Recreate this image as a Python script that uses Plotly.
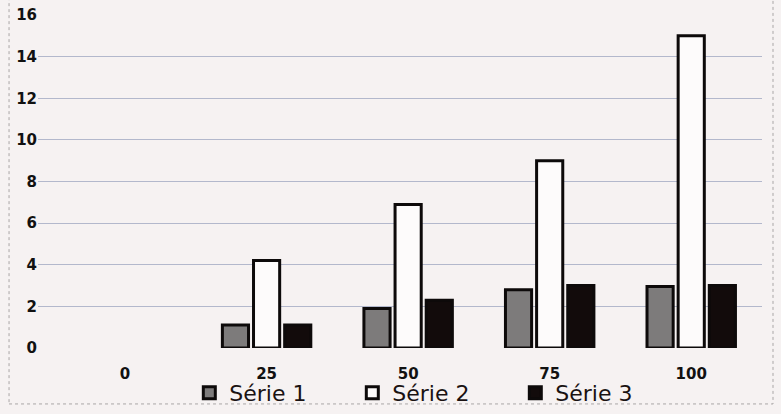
import plotly.graph_objects as go

# Data
categories = ["0", "25", "50", "75", "100"]
serie1 = [0, 1.1, 1.9, 2.8, 2.95]
serie2 = [0, 4.2, 6.9, 9.0, 15.0]
serie3 = [0, 1.1, 2.3, 3.0, 3.0]
series_names = ["Série 1", "Série 2", "Série 3"]
y_ticks = [0, 2, 4, 6, 8, 10, 12, 14, 16]

BG = "#f6f2f2"
fills = ["#7d7b7b", "#fdfbfb", "#120b0b"]
edge = "#0d0a0a"

fig = go.Figure()
for name, vals, fill in zip(series_names, [serie1, serie2, serie3], fills):
    # empty values are left undrawn so no flat outline appears on the baseline
    fig.add_trace(go.Bar(
        x=categories,
        y=[v if v else None for v in vals],
        name=name,
        marker=dict(color=fill, line=dict(color=edge, width=3)),
    ))

fig.update_layout(
    width=781,
    height=414,
    margin=dict(l=38, r=19, t=15, b=66, autoexpand=False),
    paper_bgcolor=BG,
    plot_bgcolor=BG,
    barmode="group",
    bargap=0.34,
    bargroupgap=0.16,
    showlegend=True,
    legend=dict(
        orientation="h",
        x=0.209,
        xanchor="left",
        y=-0.135,
        yanchor="middle",
        font=dict(family="DejaVu Sans", size=22, color="#1a1212"),
        entrywidth=118,
        entrywidthmode="pixels",
        bgcolor="rgba(0,0,0,0)",
        itemclick=False,
    ),
    xaxis=dict(
        type="category",
        range=[-0.615, 4.5],
        showgrid=False,
        zeroline=False,
        showline=False,
        ticks="",
        ticklabelstandoff=15,
        tickfont=dict(family="DejaVu Sans", size=15, color="#111", weight="bold"),
    ),
    yaxis=dict(
        range=[0, 16],
        tickvals=y_ticks,
        showgrid=True,
        gridcolor="#b3b8cc",
        gridwidth=1,
        zeroline=False,
        showline=False,
        ticks="",
        tickfont=dict(family="DejaVu Sans", size=15, color="#111", weight="bold"),
    ),
    shapes=[
        dict(
            type="rect", xref="paper", yref="paper",
            x0=-0.040, x1=1.0152, y0=-0.168, y1=1.5,
            line=dict(color="#a9a6a6", width=1, dash="dot"),
            layer="below",
        )
    ],
)

fig.write_html("out.html")
